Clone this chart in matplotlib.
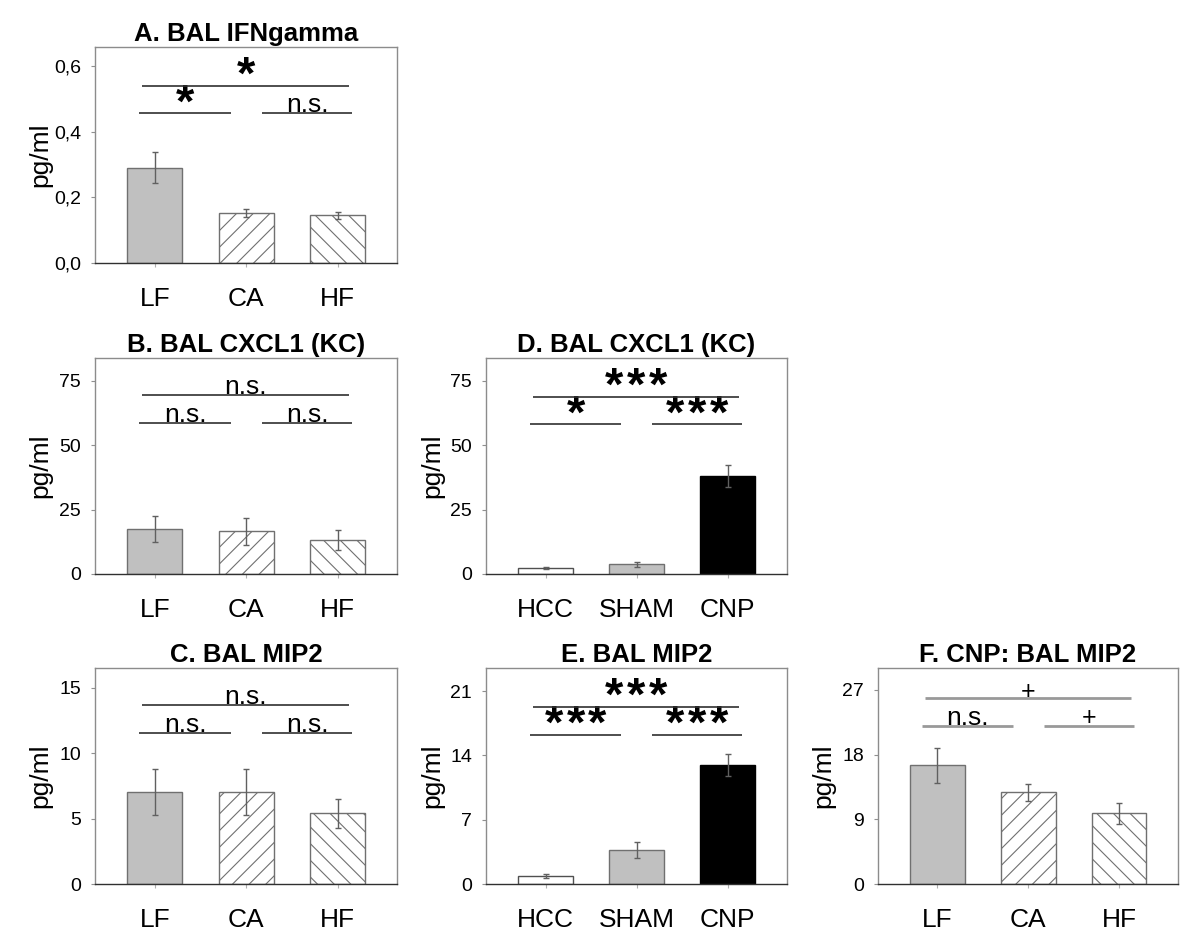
import matplotlib
matplotlib.use("Agg")
import matplotlib.pyplot as plt

plt.rcParams['font.family'] = ['Liberation Sans', 'DejaVu Sans']
plt.rcParams['hatch.linewidth'] = 0.8
plt.rcParams['hatch.color'] = '#404040'

# ---------------- data ----------------
diet_groups = ["LF", "CA", "HF"]
sepsis_groups = ["HCC", "SHAM", "CNP"]

a_means = [0.29, 0.151, 0.145]
a_sem = [0.047, 0.012, 0.010]
a_ticks = [0.0, 0.2, 0.4, 0.6]
a_ticklabels = ["0,0", "0,2", "0,4", "0,6"]
a_sig = ["*", "*", "n.s."]

b_means = [17.4, 16.6, 13.2]
b_sem = [5.0, 5.2, 3.7]
b_ticks = [0, 25, 50, 75]
b_sig = ["n.s.", "n.s.", "n.s."]

c_means = [7.04, 7.04, 5.43]
c_sem = [1.76, 1.78, 1.1]
c_ticks = [0, 5, 10, 15]
c_sig = ["n.s.", "n.s.", "n.s."]

d_means = [2.3, 3.8, 38.1]
d_sem = [0.4, 0.9, 4.4]
d_ticks = [0, 25, 50, 75]
d_sig = ["***", "*", "***"]

e_means = [0.87, 3.72, 13.0]
e_sem = [0.22, 0.9, 1.2]
e_ticks = [0, 7, 14, 21]
e_sig = ["***", "***", "***"]

f_means = [16.5, 12.74, 9.83]
f_sem = [2.45, 1.13, 1.5]
f_ticks = [0, 9, 18, 27]
f_sig = ["+", "n.s.", "+"]

# ---------------- layout ----------------
W, H = 1200, 948
fig = plt.figure(figsize=(W / 100, H / 100), dpi=100)

col_left = [95, 486, 877.7]
col_w = [302, 300.7, 300.6]
row_top = [47, 358, 668]
row_h = [216, 216, 216.3]


def make_ax(r, c):
    l = col_left[c] / W
    b = 1 - (row_top[r] + row_h[r]) / H
    return fig.add_axes([l, b, col_w[c] / W, row_h[r] / H])


diet_style = [dict(color="#c0c0c0", edgecolor="#707070", hatch=None),
              dict(color="white", edgecolor="#707070", hatch="//"),
              dict(color="white", edgecolor="#707070", hatch="\\\\")]
sepsis_style = [dict(color="white", edgecolor="#505050", hatch=None),
                dict(color="#c0c0c0", edgecolor="#707070", hatch=None),
                dict(color="black", edgecolor="black", hatch=None)]


def panel(r, c, title, cats, means, sems, ymax, ticks, ticklabels, sig,
          sig_top, sig_low, styles, sig_color="#303030", sig_lw=1.2):
    ax = make_ax(r, c)
    x = list(range(len(cats)))
    for i in x:
        st = styles[i]
        ax.bar(i, means[i], width=0.6, color=st["color"], edgecolor=st["edgecolor"],
               hatch=st["hatch"], linewidth=1.0, zorder=2)
    ax.errorbar(x, means, yerr=sems, fmt="none", ecolor="#606060", elinewidth=1.0,
                capsize=2.5, capthick=1.0, zorder=3)
    ax.set_xlim(-0.655, 2.65)
    ax.set_ylim(0, ymax)
    ax.set_xticks(x)
    ax.set_xticklabels(cats, fontsize=19)
    ax.set_yticks(ticks)
    ax.set_yticklabels(ticklabels if ticklabels else [str(t) for t in ticks], fontsize=14)
    ax.tick_params(axis="y", length=3, width=0.8, color="#909090", pad=7)
    ax.tick_params(axis="x", length=3, width=0.8, color="#b0b0b0", pad=14)
    for s in ["top", "right", "left"]:
        ax.spines[s].set_color("#8c8c8c")
        ax.spines[s].set_linewidth(1.0)
    ax.spines["bottom"].set_color("#303030")
    ax.spines["bottom"].set_linewidth(1.0)
    ax.set_title(title, fontsize=18.5, fontweight="bold", pad=4)
    ax.set_ylabel("pg/ml", fontsize=19)
    ax.yaxis.set_label_coords(-0.14, 0.5)

    # significance brackets
    lines = [(-0.14, 2.13, sig_top, sig[0], True),
             (-0.17, 0.83, sig_low, sig[1], False),
             (1.17, 2.16, sig_low, sig[2], False)]
    for x0, x1, yv, lab, top in lines:
        ax.plot([x0, x1], [yv, yv], color=sig_color, lw=sig_lw, solid_capstyle="butt",
                zorder=4)
        xm = (x0 + x1) / 2
        if "*" in lab:
            k = len(lab)
            pitch = 21.7
            for j in range(k):
                dx = (j - (k - 1) / 2) * pitch
                ax.annotate("*", (xm, yv), xytext=(dx, -3), textcoords="offset pixels",
                            ha="center", va="baseline", fontsize=34, fontweight="bold")
        elif lab == "+":
            ax.annotate(lab, (xm, yv), xytext=(0, -6 if top else -4),
                        textcoords="offset pixels",
                        ha="center", va="bottom", fontsize=18)
        else:
            ax.annotate(lab, (xm, yv), xytext=(0, 1), textcoords="offset pixels",
                        ha="center", va="baseline", fontsize=19)
    return ax


panel(0, 0, "A. BAL IFNgamma", diet_groups, a_means, a_sem, 0.658, a_ticks, a_ticklabels,
      a_sig, 0.540, 0.456, diet_style)
panel(1, 0, "B. BAL CXCL1 (KC)", diet_groups, b_means, b_sem, 83.8, b_ticks, None,
      b_sig, 69.3, 58.6, diet_style)
panel(2, 0, "C. BAL MIP2", diet_groups, c_means, c_sem, 16.5, c_ticks, None,
      c_sig, 13.7, 11.56, diet_style)
panel(1, 1, "D. BAL CXCL1 (KC)", sepsis_groups, d_means, d_sem, 83.9, d_ticks, None,
      d_sig, 68.9, 58.1, sepsis_style)
panel(2, 1, "E. BAL MIP2", sepsis_groups, e_means, e_sem, 23.5, e_ticks, None,
      e_sig, 19.3, 16.27, sepsis_style)
panel(2, 2, "F. CNP: BAL MIP2", diet_groups, f_means, f_sem, 30.0, f_ticks, None,
      f_sig, 25.8, 21.9, diet_style, sig_color="#999999", sig_lw=2.0)

fig.savefig("out.png", dpi=100)
